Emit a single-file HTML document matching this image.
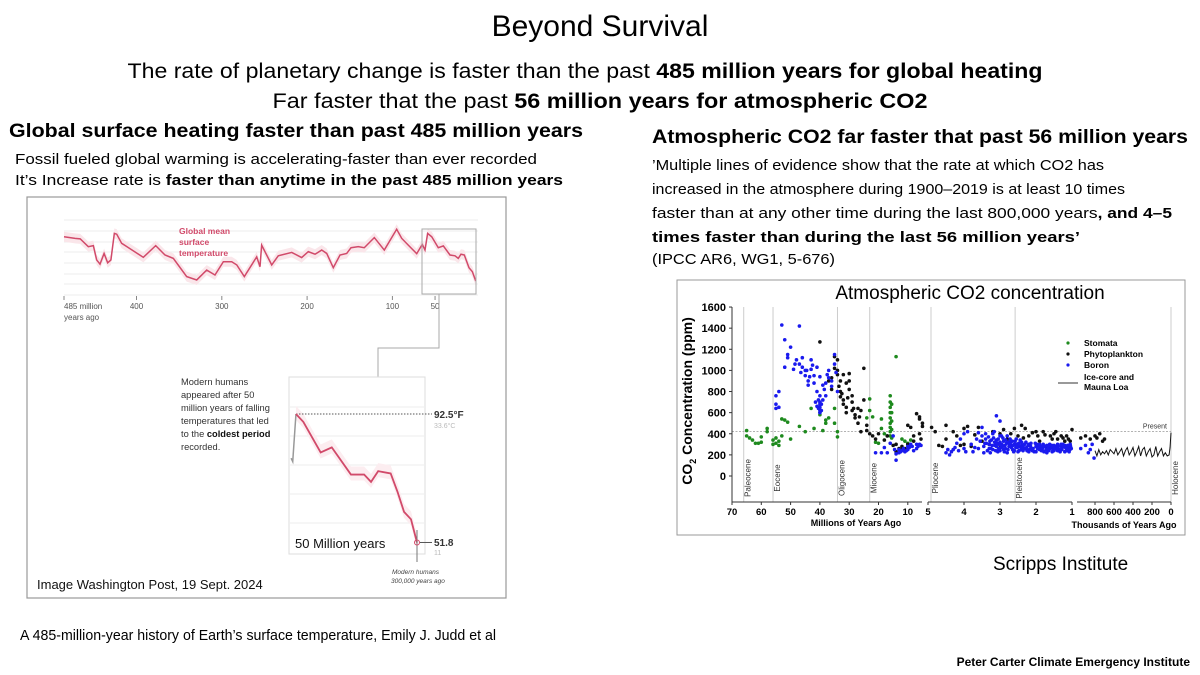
<!DOCTYPE html>
<html><head><meta charset="utf-8"><style>
html,body{margin:0;padding:0;background:#fff}
svg{display:block;font-family:"Liberation Sans",sans-serif}
</style></head><body>
<svg id="s" width="1200" height="675" viewBox="0 0 1200 675">
<rect width="1200" height="675" fill="#fff"/>
<text x="600" y="36" font-size="30" text-anchor="middle">Beyond Survival</text>
<text x="585" y="78" font-size="21" text-anchor="middle" textLength="915" lengthAdjust="spacingAndGlyphs">The rate of planetary change is faster than the past <tspan font-weight="bold">485 million years for global heating</tspan></text>
<text x="600" y="108" font-size="21" text-anchor="middle" textLength="655" lengthAdjust="spacingAndGlyphs">Far faster that the past <tspan font-weight="bold">56 million years for atmospheric CO2</tspan></text>
<text x="9" y="137" font-size="19" font-weight="bold" textLength="574" lengthAdjust="spacingAndGlyphs">Global surface heating faster than past 485 million years</text>
<text x="15" y="164" font-size="15" textLength="522" lengthAdjust="spacingAndGlyphs">Fossil fueled global warming is accelerating-faster than ever recorded</text>
<text x="15" y="185" font-size="15" textLength="548" lengthAdjust="spacingAndGlyphs">It’s Increase rate is <tspan font-weight="bold">faster than anytime in the past 485 million years</tspan></text>
<text x="652" y="143" font-size="19" font-weight="bold" textLength="536" lengthAdjust="spacingAndGlyphs">Atmospheric CO2 far faster that past 56 million years</text>
<g font-size="15">
<text x="652" y="170" textLength="452" lengthAdjust="spacingAndGlyphs">’Multiple lines of evidence show that the rate at which CO2 has</text>
<text x="652" y="194" textLength="473" lengthAdjust="spacingAndGlyphs">increased in the atmosphere during 1900–2019 is at least 10 times</text>
<text x="652" y="218" textLength="520" lengthAdjust="spacingAndGlyphs">faster than at any other time during the last 800,000 years<tspan font-weight="bold">, and 4–5</tspan></text>
<text x="652" y="242" font-weight="bold" textLength="428" lengthAdjust="spacingAndGlyphs">times faster than during the last 56 million years’</text>
<text x="652" y="264" textLength="183" lengthAdjust="spacingAndGlyphs">(IPCC AR6, WG1, 5-676)</text>
</g>
<text x="993" y="570" font-size="19">Scripps Institute</text>
<text x="20" y="640" font-size="15" textLength="476" lengthAdjust="spacingAndGlyphs">A 485-million-year history of Earth’s surface temperature, Emily J. Judd et al</text>
<text x="1190" y="666" font-size="12" font-weight="bold" text-anchor="end">Peter Carter Climate Emergency Institute</text>

<!-- LEFT CHART -->
<rect x="27" y="197" width="479" height="401" fill="#fff" stroke="#999" stroke-width="1.2"/>
<g id="tgrid"></g>
<g id="tchart"></g>
<text x="179" y="234" font-size="8.5" font-weight="bold" fill="#d14a6a"><tspan x="179">Global mean</tspan><tspan x="179" dy="11">surface</tspan><tspan x="179" dy="11">temperature</tspan></text>
<rect x="422" y="229" width="54" height="65" fill="none" stroke="#aaa" stroke-width="1"/>
<polyline points="439,294 439,348 378,348 378,377" fill="none" stroke="#aaa" stroke-width="1"/>
<rect x="289" y="377" width="136" height="177" fill="#fff" stroke="#ddd" stroke-width="1"/>
<g id="inset"></g>
<g font-size="9.3" fill="#333">
<text x="181" y="385">Modern humans</text>
<text x="181" y="398">appeared after 50</text>
<text x="181" y="411">million years of falling</text>
<text x="181" y="424">temperatures that led</text>
<text x="181" y="437">to the <tspan font-weight="bold" fill="#111">coldest period</tspan></text>
<text x="181" y="450">recorded.</text>
</g>
<text x="434" y="418" font-size="10" font-weight="bold" fill="#333">92.5°F</text>
<text x="434" y="428" font-size="7" fill="#bbb">33.6°C</text>
<text x="434" y="546" font-size="10" font-weight="bold" fill="#333">51.8</text>
<text x="434" y="555" font-size="7" fill="#bbb">11</text>
<text x="295" y="548" font-size="13" fill="#111">50 Million years</text>
<text x="392" y="574" font-size="6.5" font-style="italic" fill="#444"><tspan x="392">Modern humans</tspan><tspan x="391" dy="9">300,000 years ago</tspan></text>
<text x="37" y="589" font-size="13" fill="#111">Image Washington Post, 19 Sept. 2024</text>

<!-- RIGHT CHART -->
<rect x="677" y="280" width="508" height="255" fill="#fff" stroke="#999" stroke-width="1"/>
<text x="970" y="299" font-size="19" text-anchor="middle">Atmospheric CO2 concentration</text>
<g id="co2"></g>
</svg>
<script>
// ---- Temperature (Washington Post) data ----
const tempAges=[485,472,466,456.5,450.6,446.7,442.8,438,433.8,430,426,423.2,417.4,392,377.5,366.6,356.8,341.2,329.4,317.7,308,298.2,288.4,282.5,273.6,259.1,255.2,253.3,241.5,233.8,218,206.4,198.6,190.7,182.9,177,169.3,161.4,153.6,148.5,140,133,121.2,109.5,95,89.1,81.4,71.5,65,61.8,58.7,53.9,46.2,40.3,32.5,26.6,22.8,19.6,15.7,10.2,6.3,2.3];
const tempC=[32.0,31.4,31.2,28.2,28.6,23.1,21.5,25.6,22.0,23.1,33.3,33.0,29.5,24.1,28.6,25.0,23.7,16.7,15.4,19.2,17.3,22.4,22.4,21.2,16.7,24.3,20.5,28.8,21.2,24.7,26.0,24.0,26.3,25.3,26.9,25.6,20.1,25.0,25.6,27.8,28.2,27.8,31.7,26.9,34.9,31.4,28.8,25.5,29.1,26.9,33.3,32.0,27.8,28.5,25.0,24.7,23.7,25.3,25.0,20.1,18.6,15.0];
const tempTickLabels=[485,400,300,200,100,50];
const insetAges=[52.4,49.2,41.7,36.9,28.6,22.9,19.9,16.8,11.4,8.4,5.6,2.6,0];
const insetC=[33.6,32.2,26.8,27.7,22.9,22.9,21.6,23.5,23.1,19.8,16.3,15.0,10.9];
const insetPreAges=[54.5,53.8,52.4];
const insetPreC=[25.8,25.2,33.6];

// ---- CO2 data: [age Ma, ppm] ----
const stomata=[[65,430],[65,380],[64,360],[63,340],[62,310],[61,310],[60,320],[60,370],[58,450],[58,420],[56,300],[56,340],[55,310],[55,360],[54,330],[54,290],[53,380],[53,540],[52,530],[51,510],[50,350],[47,470],[45,420],[43,640],[42,450],[40,600],[40,580],[39,430],[38,530],[38,500],[37,550],[35,500],[35,640],[34,420],[34,370],[24,550],[23,730],[23,620],[22,560],[21,320],[20,310],[19,540],[19,450],[18,400],[17,380],[16,760],[16,700],[16,650],[16,600],[16,550],[16,500],[16,460],[16,420],[16,380],[15.5,680],[15.5,600],[15.5,520],[15.5,440],[15.5,360],[14,1130],[12,350],[11,330],[10,310],[9,340]];
const phyto=[[40,1270],[36,930],[35,1130],[34,1100],[34,1000],[34,960],[33,900],[33,800],[33,750],[32,720],[32,680],[31,650],[31,600],[30,970],[30,900],[30,820],[29,700],[29,620],[28,580],[28,550],[27,500],[26,420],[26,620],[25,1020],[25,720],[24,480],[24,430],[23,400],[22,380],[21,350],[20,400],[18,340],[17,380],[15,290],[14,230],[14,300],[13,260],[12,280],[11,260],[10,300],[10,480],[9,460],[8,380],[7,590],[6,560],[6,540],[6,400],[5.5,350],[5,500],[5,470],[4.8,420],[4.7,290],[4.5,350],[4.5,480],[4.3,420],[4.2,380],[4,450],[4,300],[3.8,280],[3.6,460],[3.5,330],[3.3,300],[3.2,420],[3.0,400],[3.0,270],[2.8,350],[2.6,450],[2.5,380],[2.4,480],[2.3,450],[2.2,380],[2.0,420],[1.9,330],[1.8,420],[1.7,260],[1.6,380],[1.5,400],[1.4,350],[1.3,380],[1.2,330],[1.1,350],[1.0,440],[0.95,360],[0.9,380],[0.85,350],[0.8,380],[0.78,360],[0.75,400],[0.72,330],[0.7,350],[4.9,460],[4.6,280],[3.9,470],[2.9,440],[2.1,410],[1.75,390],[1.45,420],[1.15,380],[27,640],[31,880],[29,760],[35,1020],[32,960],[8,330],[12,250],[4.1,290],[3.7,390],[2.7,400],[2.35,360],[1.95,380],[1.55,350],[1.25,360],[1.05,330],[33.5,850],[32.5,780],[30.5,740],[28.5,640],[26.5,560],[36,820],[37,900]];
const boron=[[55,640],[55,680],[55,760],[54,800],[54,650],[53,1430],[52,1290],[52,1030],[51,1150],[51,1120],[50,1220],[49,1010],[48,1100],[47,1060],[47,1420],[46,1030],[46,1120],[45,1000],[45,950],[44,900],[44,860],[43,1100],[43,1010],[42,950],[42,880],[41,1030],[41,800],[40,700],[40,650],[40,620],[40,600],[40,680],[40,760],[40,940],[39,860],[39,720],[38,880],[38,760],[37,1000],[37,930],[36,900],[36,850],[35,1150],[35,1060],[34.5,980],[34,800],[21,220],[19,220],[17,220],[16,310],[15,380],[14,150],[14,210],[13,250],[12,240],[11,230],[10,250],[9,300],[8,240],[7,260],[6,300],[5.5,290],
[4.5,220],[4.4,200],[4.3,250],[4.2,310],[4.1,350],[4.0,400],[3.9,420],[3.8,300],[3.6,260],[3.4,350],[3.3,300],[3.25,260],[3.2,400],[3.15,320],[3.1,280],[3.05,350],[3.0,380],[3.0,240],[2.95,300],[2.9,330],[2.85,260],[2.8,380],[2.75,280],[2.7,320],[2.65,250],[2.6,300],[2.55,350],[2.5,230],[2.45,280],[2.4,320],[2.3,260],[2.2,300],[2.1,240],[2.0,280],[1.9,250],[1.8,300],[1.7,220],[1.6,260],[1.5,290],[1.4,240],[1.3,280],[1.2,230],[1.1,270],[1.05,300],[3.1,570],[3.0,520],[3.5,460],[3.6,410],
[3.35,240],[3.28,330],[3.22,290],[3.12,240],[3.08,310],[2.98,270],[2.92,360],[2.88,230],[2.82,310],[2.78,250],[2.72,350],[2.68,270],[2.62,230],[2.58,330],[2.52,270],[2.48,310],[2.42,250],[2.35,290],[2.25,240],[2.15,280],[2.05,230],[1.95,290],[1.85,240],[1.75,280],[1.65,240],[1.55,230],[1.45,280],[1.35,250],[1.25,300],[1.15,250],[1.08,230],[3.45,280],[3.55,330],[3.4,400],[3.18,360],[3.02,300],[2.86,290],[2.7,290],[2.56,270],[2.4,290],[2.28,320],[2.18,250],[2.02,310],[1.88,270],[1.72,250],[1.62,300],[1.52,260],[1.38,280],[1.28,250],[1.12,290],[1.02,260],
[0.95,260],[0.9,290],[0.87,220],[0.85,250],[0.83,300],[0.81,170],[4.35,230],[4.25,270],[4.45,250],[18,270],[13,220],[10,280],[7,300],
[3.5,380],[3.45,220],[3.38,310],[3.32,370],[3.27,220],[3.2,250],[3.16,420],[3.1,340],[3.04,260],[3.0,320],[2.96,380],[2.9,250],[2.84,340],[2.8,220],[2.74,300],[2.66,330],[2.6,240],[2.54,300],[2.47,240],[2.44,340],[2.38,270],[2.32,300],[2.26,270],[2.2,230],[2.14,310],[2.08,260],[2.0,230],[1.96,260],[1.9,300],[1.82,260],[1.78,230],[1.7,290],[1.66,270],[1.58,280],[1.5,240],[1.46,260],[1.4,300],[1.33,230],[1.27,270],[1.2,290],[1.16,240],[1.1,240],[1.04,280],[3.42,310],[3.3,260],[3.24,340],[3.14,290],[3.06,230],[2.93,280],[2.76,320],[2.64,290],[2.5,290],[2.36,240],[2.22,290],[2.12,250],[1.98,300],[1.84,280],[1.68,250],[1.56,290],[1.42,260],[1.3,300],[1.18,270],[1.06,250],[4.0,260],[3.95,230],[4.15,240],[3.7,270],[3.65,350],[3.75,230],
[41,660],[40.5,640],[39.5,620],[40.5,720],[39.5,680],[41.5,700],[38.5,820],[37.5,960],[44.5,1000],[43.5,940],[42.5,1050],[48.5,1060],[46.5,980],[11.5,260],[10.5,240],[9.5,270],[12.5,230],[8.5,280],[6.5,280],[14.5,250]];
const iceKyr=[800,780,760,740,720,700,680,660,640,620,600,580,560,540,520,500,480,460,440,420,400,380,360,340,320,300,280,260,240,220,200,180,160,140,120,100,80,60,40,20,10,0];
const icePpm=[240,190,250,200,230,210,240,200,250,230,210,260,200,230,260,190,240,270,200,230,270,190,230,280,190,250,270,190,230,260,180,200,280,190,230,260,190,220,190,200,270,410];
const yTicks=[0,200,400,600,800,1000,1200,1400,1600];
const xTicksMa=[70,60,50,40,30,20,10];
const xTicksMid=[5,4,3,2,1];
const xTicksKyr=[800,600,400,200,0];
const epochs=[["Paleocene",66],["Eocene",56],["Oligocene",34],["Miocene",23],["Pliocene",5.3],["Pleistocene",2.58],["Holocene",0.0117]];

const NS="http://www.w3.org/2000/svg";
function mk(tag,attrs,parent,txt){const e=document.createElementNS(NS,tag);for(const k in attrs)e.setAttribute(k,attrs[k]);if(txt!==undefined)e.textContent=txt;parent.appendChild(e);return e;}

// temp chart
const tx=a=>64+(485-a)*0.853, ty=t=>294-(t-10)*2.6;
const tg=document.getElementById('tgrid'), tc=document.getElementById('tchart');
[220,231,242,252,263,274,284,295].forEach(y=>{const l=mk('line',{x1:64,x2:478,y1:y,y2:y,stroke:'#eee','stroke-width':1},tg);

});
let band='';
tempAges.forEach((a,i)=>{band+=(i?'L':'M')+tx(a)+','+(ty(tempC[i])-5);});
for(let i=tempAges.length-1;i>=0;i--)band+='L'+tx(tempAges[i])+','+(ty(tempC[i])+5);
const bp=mk('path',{d:band+'Z',fill:'#fae6ea'},tc);


const tl=mk('polyline',{points:tempAges.map((a,i)=>tx(a)+','+ty(tempC[i])).join(' '),fill:'none',stroke:'#d14a6a','stroke-width':1.5},tc);


tempTickLabels.forEach(v=>{const x=tx(v);mk('line',{x1:x,x2:x,y1:296,y2:300,stroke:'#888'},tc);
const t=mk('text',{x:x,y:309,'font-size':8,fill:'#555','text-anchor':v===485?'start':'middle'},tc,v===485?'485 million':String(v));

});
const ya=mk('text',{x:64,y:320,'font-size':8,fill:'#555'},tc,'years ago');



// inset
const ix=a=>417-a*2.31, iy=t=>414+(33.6-t)*5.66;
const ig=document.getElementById('inset');
[407,436,465,494,523].forEach(y=>{const l=mk('line',{x1:290,x2:424,y1:y,y2:y,stroke:'#eee'},ig);

});
let ib='';insetAges.forEach((a,i)=>{ib+=(i?'L':'M')+ix(a)+','+(iy(insetC[i])-8);});
for(let i=insetAges.length-1;i>=0;i--)ib+='L'+ix(insetAges[i])+','+(iy(insetC[i])+6);
const ibp=mk('path',{d:ib+'Z',fill:'#fcedf0'},ig);


const dl=mk('line',{x1:ix(52.4),x2:432,y1:iy(33.6),y2:iy(33.6),stroke:'#555','stroke-dasharray':'1.5,1.5'},ig);


const gl=mk('polyline',{points:insetPreAges.map((a,i)=>ix(a)+','+iy(insetPreC[i])).join(' '),fill:'none',stroke:'#999','stroke-width':1.5},ig);


const il=mk('polyline',{points:insetAges.map((a,i)=>ix(a)+','+iy(insetC[i])).join(' '),fill:'none',stroke:'#d14a6a','stroke-width':1.8},ig);


mk('line',{x1:ix(0)+3,x2:432,y1:iy(10.9),y2:iy(10.9),stroke:'#555'},ig);
mk('line',{x1:ix(0),x2:ix(0),y1:530,y2:562,stroke:'#777'},ig);
const hc=mk('circle',{cx:ix(0),cy:iy(10.9),r:2.5,fill:'none',stroke:'#d14a6a'},ig);



// CO2 chart
const cx=a=> a>=5 ? 732+(70-a)*2.93 : (a>=1 ? 928+(5-a)*36 : 1171-a*95);
const cy=p=>476-p*0.1056;
const g=document.getElementById('co2');
epochs.forEach(([n,a])=>{const x=a<1?1171:(a===5.3?931:cx(a));
const l=mk('line',{x1:x,x2:x,y1:307,y2:502,stroke:'#ccc','stroke-width':1},g);


const t=mk('text',{x:0,y:0,'font-size':8,fill:'#333','text-anchor':'middle',transform:`translate(${x+7},${478}) rotate(-90)`},g,n);

});
const pl=mk('line',{x1:732,x2:1171,y1:cy(420),y2:cy(420),stroke:'#999','stroke-dasharray':'2,1.5','stroke-width':0.8},g);


const pt=mk('text',{x:1167,y:cy(420)-3,'font-size':7,fill:'#333','text-anchor':'end'},g,'Present');


function dots(arr,col,name){arr.forEach(([a,p])=>{const c=mk('circle',{cx:cx(a),cy:cy(p),r:1.8,fill:col},g);

});}
dots(stomata,'#1e8a1e','stomata-point');
dots(phyto,'#111','phytoplankton-point');
dots(boron,'#1a1aee','boron-point');
const ice=mk('polyline',{points:iceKyr.map((k,i)=>cx(k/1000)+','+cy(icePpm[i])).join(' '),fill:'none',stroke:'#111','stroke-width':1},g);


// axes
mk('line',{x1:732,x2:732,y1:307,y2:502,stroke:'#333'},g);
[[732,922],[928,1072],[1077,1171]].forEach(([a,b])=>{const l=mk('line',{x1:a,x2:b,y1:502,y2:502,stroke:'#333'},g);

});
yTicks.forEach(v=>{mk('line',{x1:729,x2:732,y1:cy(v),y2:cy(v),stroke:'#333'},g);
const t=mk('text',{x:726,y:cy(v)+4,'font-size':11,'font-weight':'bold','text-anchor':'end'},g,String(v));

});
function xt(v,x){mk('line',{x1:x,x2:x,y1:502,y2:505,stroke:'#333'},g);
const t=mk('text',{x:x,y:515,'font-size':9.5,'font-weight':'bold','text-anchor':'middle'},g,String(v));

}
xTicksMa.forEach(v=>xt(v,cx(v)));
xTicksMid.forEach(v=>xt(v,928+(5-v)*36));
xTicksKyr.forEach(v=>xt(v,cx(v/1000)));
const xl1=mk('text',{x:856,y:526,'font-size':9,'font-weight':'bold','text-anchor':'middle'},g,'Millions of Years Ago');


const xl2=mk('text',{x:1124,y:528,'font-size':9,'font-weight':'bold','text-anchor':'middle'},g,'Thousands of Years Ago');


const yl=mk('text',{x:0,y:0,'font-size':14,'font-weight':'bold','text-anchor':'middle',transform:'translate(692,401) rotate(-90)'},g);


yl.innerHTML='CO<tspan font-size="9" dy="4">2</tspan><tspan dy="-4"> Concentration (ppm)</tspan>';
// legend
const lg=mk('g',{},g);


[['Stomata','#1e8a1e',346],['Phytoplankton','#111',357],['Boron','#1a1aee',368]].forEach(([n,c,y])=>{mk('circle',{cx:1068,cy:y-3,r:1.6,fill:c},lg);
const t=mk('text',{x:1084,y:y,'font-size':8.5,'font-weight':'bold'},lg,n);

});
mk('line',{x1:1058,x2:1078,y1:383,y2:383,stroke:'#333'},lg);
const li=mk('text',{x:1084,y:380,'font-size':8.5,'font-weight':'bold'},lg);


li.innerHTML='<tspan x="1084">Ice-core and</tspan><tspan x="1084" dy="10">Mauna Loa</tspan>';
</script>
</body></html>
